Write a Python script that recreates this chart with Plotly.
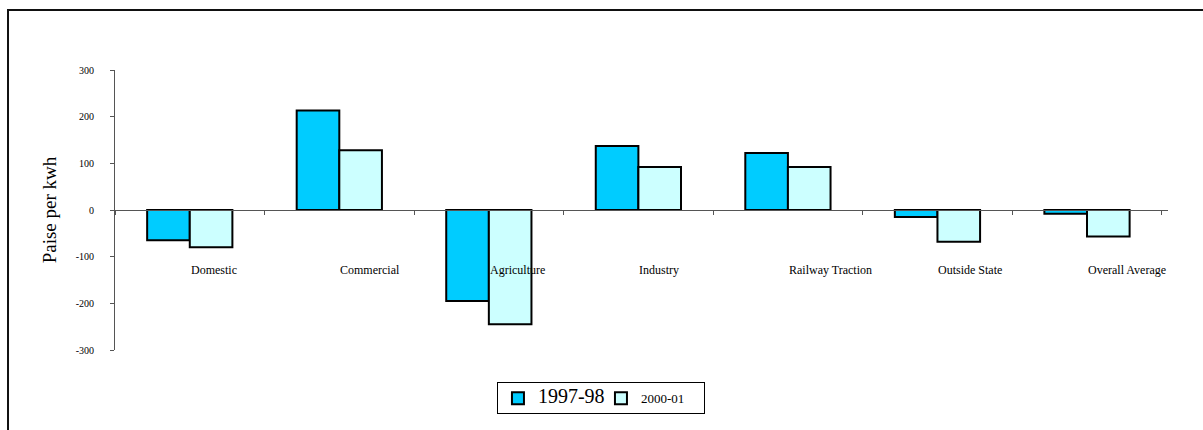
import plotly.graph_objects as go

categories = ["Domestic", "Commercial", "Agriculture", "Industry",
              "Railway Traction", "Outside State", "Overall Average"]
values_1997_98 = [-65, 213, -195, 137, 122, -15, -8]
values_2000_01 = [-80, 128, -245, 92, 92, -68, -57]
ytick_vals = [300, 200, 100, 0, -100, -200, -300]
ytick_text = ["300", "200", "100", "0", "-100", "-200", "-300"]

SERIF = "Liberation Serif"

fig = go.Figure()
fig.add_trace(go.Bar(
    x=categories, y=values_1997_98,
    name="<span style='font-size:20px'>1997-98</span>",
    marker=dict(color="#00CCFF", line=dict(color="#000000", width=2)),
))
fig.add_trace(go.Bar(
    x=categories, y=values_2000_01,
    name="<span style='font-size:13px'>2000-01</span>",
    marker=dict(color="#CCFFFF", line=dict(color="#000000", width=2)),
))

# category labels: left-aligned starting at category centre
for c in categories:
    fig.add_annotation(x=c, y=-128, text=c, xref="x", yref="y",
                       xanchor="left", yanchor="middle", showarrow=False,
                       xshift=-1, font=dict(family=SERIF, size=12, color="#000"))

# outer frame
fig.add_shape(type="rect", xref="paper", yref="paper",
              x0=-0.1016, x1=1.3, y0=-0.6, y1=1.214,
              line=dict(color="#111111", width=2), fillcolor="rgba(0,0,0,0)",
              layer="below")

fig.update_layout(
    width=1203, height=430,
    margin=dict(l=115, r=35, t=70, b=80, pad=0),
    paper_bgcolor="white", plot_bgcolor="white",
    barmode="group", bargap=0.43, bargroupgap=0,
    font=dict(family=SERIF, color="#000"),
    showlegend=True,
    legend=dict(orientation="h", x=0.4615, xanchor="center",
                y=-0.115, yanchor="top",
                bordercolor="#000000", borderwidth=1,
                bgcolor="white", font=dict(family=SERIF, size=13),
                itemwidth=30, entrywidth=58, traceorder="normal"),
    xaxis=dict(
        type="category", anchor="free", position=0.5,
        showline=True, linecolor="#555555", linewidth=1,
        ticks="outside", tickson="boundaries", ticklen=4,
        tickcolor="#555555", showticklabels=False,
        showgrid=False, zeroline=False,
    ),
    yaxis=dict(
        range=[-300, 300], tickvals=ytick_vals, ticktext=ytick_text,
        showline=True, linecolor="#555555", linewidth=1,
        ticks="outside", ticklen=4, tickcolor="#555555",
        ticklabelstandoff=14,
        tickfont=dict(family=SERIF, size=10, color="#000"),
        showgrid=False, zeroline=False,
        title=dict(text="Paise per kwh", standoff=14,
                   font=dict(family=SERIF, size=19, color="#000")),
    ),
)

fig.write_html("out.html")
